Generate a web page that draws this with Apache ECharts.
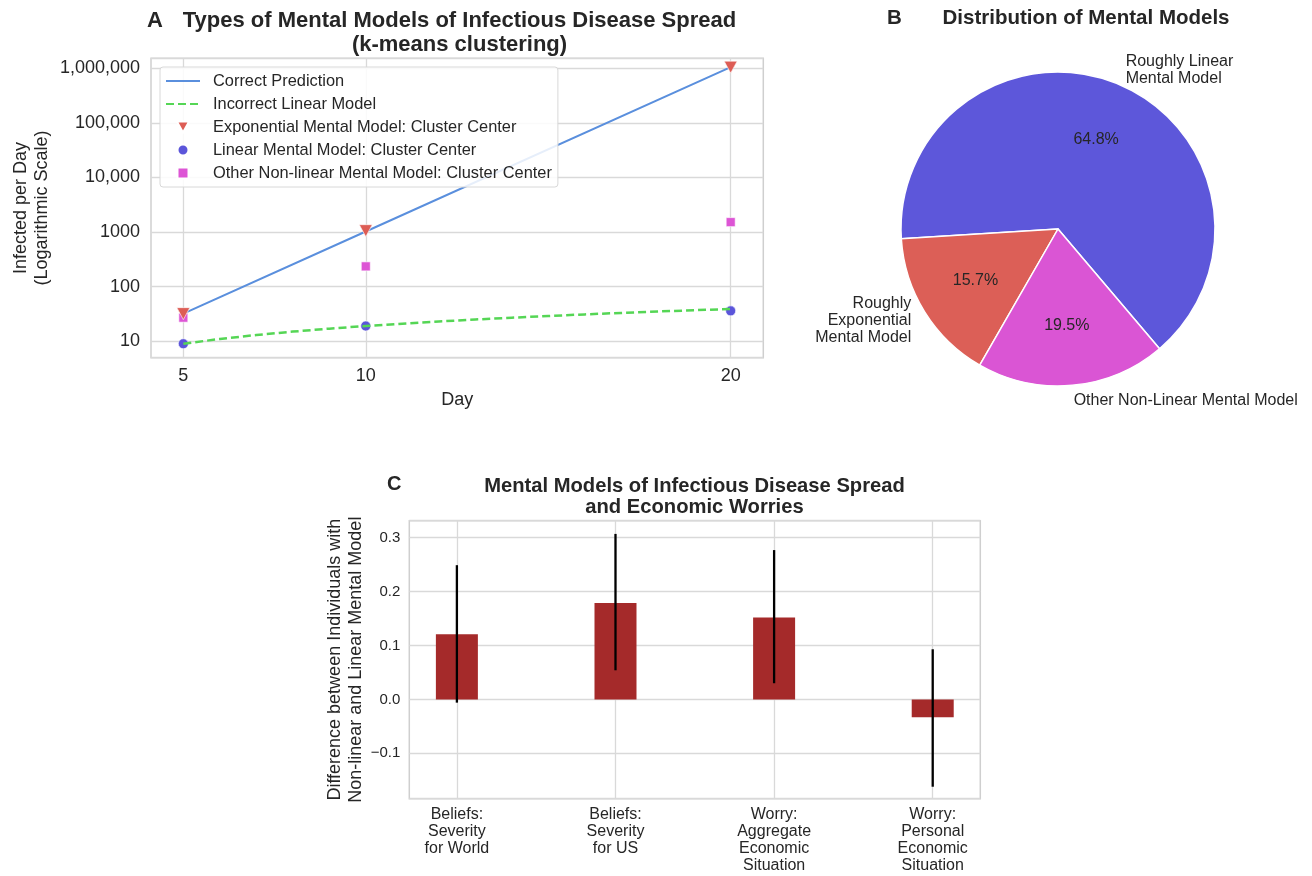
<!DOCTYPE html>
<html>
<head>
<meta charset="utf-8">
<script src="https://cdn.jsdelivr.net/npm/echarts@6/dist/echarts.min.js"></script>
<style>
html,body{margin:0;padding:0;background:#fff;}
#chart{width:1312px;height:876px;}
</style>
</head>
<body>
<div id="chart"></div>
<script>
// ---------- Panel A data ----------
const dayTicks = [5, 10, 20];
const correctDays = [5, 10, 20];
const correctValues = [32, 1024, 1048576];
const linearModelDays = [5, 6, 7, 8, 9, 10, 11, 12, 13, 14, 15, 16, 17, 18, 19, 20];
const linearModelValues = [9, 11, 13, 15, 17, 19, 21, 23, 25, 27, 29, 31, 33, 35, 37, 39];
const clusterDays = [5, 10, 20];
const exponentialCenters = [32, 1060, 1050000];
const linearCenters = [9, 19, 36];
const otherCenters = [27, 235, 1520];
const seriesNamesA = [
  'Correct Prediction',
  'Incorrect Linear Model',
  'Exponential Mental Model: Cluster Center',
  'Linear Mental Model: Cluster Center',
  'Other Non-linear Mental Model: Cluster Center'
];
// ---------- Panel B data ----------
const pieNames = ['Roughly Linear\nMental Model', 'Roughly\nExponential\nMental Model', 'Other Non-Linear Mental Model'];
const pieShares = [64.8, 15.7, 19.5];
// ---------- Panel C data ----------
const categoriesC = [
  'Beliefs:\nSeverity\nfor World',
  'Beliefs:\nSeverity\nfor US',
  'Worry:\nAggregate\nEconomic\nSituation',
  'Worry:\nPersonal\nEconomic\nSituation'
];
const diffValues = [0.121, 0.179, 0.152, -0.033];
const errLow = [-0.006, 0.054, 0.030, -0.162];
const errHigh = [0.249, 0.307, 0.277, 0.093];

const FONT = "'Liberation Sans', Arial, Helvetica, sans-serif";
const TXT = '#262626';
const GRIDC = '#d9d9d9';
const FRAME = '#cfcfcf';
const pieColors = ['#5d57da', '#dc5f57', '#da55d4'];

const chart = echarts.init(document.getElementById('chart'), null, {renderer: 'canvas'});

function pow10Label(v) {
  const l = Math.log10(v);
  if (Math.abs(l - Math.round(l)) > 1e-6) return '';
  const n = Math.round(v);
  return n >= 10000 ? n.toLocaleString('en-US') : String(n);
}
function tenthLabel(v) {
  if (Math.abs(v * 10 - Math.round(v * 10)) > 1e-6) return '';
  const r = Math.round(v * 10) / 10;
  return (r < 0 ? '\u2212' : '') + Math.abs(r).toFixed(1);
}

const titleStyle = (size, lh) => ({fontFamily: FONT, fontWeight: 'bold', fontSize: size, lineHeight: lh, color: TXT});

const option = {
  backgroundColor: '#ffffff',
  animation: false,
  textStyle: {fontFamily: FONT, color: TXT},
  title: [
    {text: 'A', left: 147, top: 8.5, padding: 0, textStyle: titleStyle(22, 24)},
    {text: 'Types of Mental Models of Infectious Disease Spread\n(k-means clustering)', left: 459.5, top: 8.5, padding: 0, textAlign: 'center',
     textStyle: titleStyle(22, 24)},
    {text: 'B', left: 887, top: 6, padding: 0, textStyle: titleStyle(20.5, 24)},
    {text: 'Distribution of Mental Models', left: 1086, top: 6, padding: 0, textAlign: 'center',
     textStyle: titleStyle(20.5, 24)},
    {text: 'C', left: 387, top: 473, padding: 0, textStyle: titleStyle(20, 22)},
    {text: 'Mental Models of Infectious Disease Spread\nand Economic Worries', left: 694.5, top: 475.5, padding: 0, textAlign: 'center',
     textStyle: titleStyle(20.2, 21)}
  ],
  legend: {
    left: 160, top: 67, orient: 'vertical',
    padding: [6, 6, 6, 5],
    itemWidth: 34, itemHeight: 11, itemGap: 7,
    backgroundColor: 'rgba(255,255,255,0.85)',
    borderColor: '#d8d8d8', borderWidth: 1, borderRadius: 3,
    textStyle: {fontFamily: FONT, fontSize: 16.4, lineHeight: 16, color: TXT, padding: [0, 0, 0, 8]},
    data: [
      {name: seriesNamesA[0], itemStyle: {opacity: 0}},
      {name: seriesNamesA[1], itemStyle: {opacity: 0}},
      {name: seriesNamesA[2]},
      {name: seriesNamesA[3], icon: 'path://M0,0A5,5,0,1,1,0,0.01Z'},
      {name: seriesNamesA[4], icon: 'path://M0,0L10,0L10,10L0,10Z'}
    ],
    selectedMode: false
  },
  grid: [
    {left: 151, top: 58.3, width: 612.3, height: 299.4, show: true, borderColor: FRAME, borderWidth: 1.5, containLabel: false},
    {left: 409.3, top: 520.7, width: 571, height: 278, show: true, borderColor: FRAME, borderWidth: 1.5, containLabel: false}
  ],
  xAxis: [
    {
      type: 'value', gridIndex: 0, min: 4.114, max: 20.894,
      name: 'Day', nameLocation: 'middle', nameGap: 33,
      nameTextStyle: {fontFamily: FONT, fontSize: 18, color: TXT},
      axisLine: {show: false}, axisTick: {show: false, customValues: dayTicks},
      axisLabel: {customValues: dayTicks, fontFamily: FONT, fontSize: 18, color: TXT, margin: 9},
      splitLine: {show: true, lineStyle: {color: GRIDC, width: 1.3}}
    },
    {
      type: 'value', gridIndex: 1, min: -0.3, max: 3.3,
      axisLine: {show: false}, axisTick: {show: false, customValues: [0, 1, 2, 3]},
      axisLabel: {customValues: [0, 1, 2, 3], fontFamily: FONT, fontSize: 16, lineHeight: 17, color: TXT, margin: 7, align: 'center', verticalAlign: 'top',
        formatter: v => categoriesC[Math.round(v)]},
      splitLine: {show: true, lineStyle: {color: GRIDC, width: 1.3}}
    }
  ],
  yAxis: [
    {
      type: 'log', logBase: 10, gridIndex: 0, min: 4.99, max: 1525000,
      name: 'Infected per Day\n(Logarithmic Scale)', nameLocation: 'middle', nameGap: 98,
      nameTextStyle: {fontFamily: FONT, fontSize: 18, color: TXT, lineHeight: 21},
      axisLine: {show: false}, axisTick: {show: false}, minorTick: {show: false},
      axisLabel: {fontFamily: FONT, fontSize: 18, color: TXT, margin: 11, formatter: pow10Label},
      splitLine: {show: true, lineStyle: {color: GRIDC, width: 1.3}}
    },
    {
      type: 'value', gridIndex: 1, min: -0.1842, max: 0.3315,
      name: 'Difference between Individuals with\nNon-linear and Linear Mental Model', nameLocation: 'middle', nameGap: 42,
      nameTextStyle: {fontFamily: FONT, fontSize: 18, color: TXT, lineHeight: 21.5},
      axisLine: {show: false}, axisTick: {show: false},
      axisLabel: {fontFamily: FONT, fontSize: 15, color: TXT, margin: 9, formatter: tenthLabel},
      splitLine: {show: true, lineStyle: {color: GRIDC, width: 1.3}}
    }
  ],
  series: [
    {
      name: seriesNamesA[0], type: 'line', xAxisIndex: 0, yAxisIndex: 0,
      data: correctDays.map((d, i) => [d, correctValues[i]]),
      symbol: 'none', lineStyle: {color: '#5a8fdd', width: 2}, itemStyle: {color: '#5a8fdd'}, z: 2, silent: true
    },
    {
      name: seriesNamesA[1], type: 'line', xAxisIndex: 0, yAxisIndex: 0,
      data: linearModelDays.map((d, i) => [d, linearModelValues[i]]),
      symbol: 'none', lineStyle: {color: '#55d655', width: 2.5, type: [8, 4]}, itemStyle: {color: '#55d655'}, z: 4, silent: true
    },
    {
      name: seriesNamesA[2], type: 'scatter', xAxisIndex: 0, yAxisIndex: 0,
      data: clusterDays.map((d, i) => [d, exponentialCenters[i]]),
      symbol: 'path://M0,0L10,0L5,9Z', symbolSize: [13, 12],
      itemStyle: {color: '#dd5d55', borderColor: '#ffffff', borderWidth: 0.6, opacity: 1}, z: 5, silent: true
    },
    {
      name: seriesNamesA[3], type: 'scatter', xAxisIndex: 0, yAxisIndex: 0,
      data: clusterDays.map((d, i) => [d, linearCenters[i]]),
      symbol: 'circle', symbolSize: 10,
      itemStyle: {color: '#5b55da', borderColor: '#ffffff', borderWidth: 0.6, opacity: 1}, z: 3, silent: true
    },
    {
      name: seriesNamesA[4], type: 'scatter', xAxisIndex: 0, yAxisIndex: 0,
      data: clusterDays.map((d, i) => [d, otherCenters[i]]),
      symbol: 'rect', symbolSize: 9,
      itemStyle: {color: '#dd55d5', borderColor: '#ffffff', borderWidth: 0.6, opacity: 1}, z: 3, silent: true
    },
    // Panel B: pie with outer labels
    {
      type: 'pie', center: [1058, 229], radius: 157,
      startAngle: 310.3, clockwise: false, avoidLabelOverlap: false, silent: true,
      data: pieNames.map((n, i) => ({name: n, value: pieShares[i], itemStyle: {color: pieColors[i]}})),
      itemStyle: {borderColor: '#ffffff', borderWidth: 1.5},
      label: {show: true, position: 'outside', fontFamily: FONT, fontSize: 16, lineHeight: 17, color: TXT, distanceToLabelLine: 0,
        formatter: p => p.name},
      labelLine: {show: false, length: 15.7, length2: 0},
      emphasis: {disabled: true}
    },
    // Panel B: percentage labels (transparent ring placing labels at 0.6 r)
    {
      type: 'pie', center: [1058, 229], radius: [31.4, 157],
      startAngle: 310.3, clockwise: false, avoidLabelOverlap: false, silent: true,
      data: pieNames.map((n, i) => ({name: n, value: pieShares[i]})),
      itemStyle: {color: 'rgba(0,0,0,0)', borderWidth: 0},
      label: {show: true, position: 'inside', fontFamily: FONT, fontSize: 16, color: TXT,
        formatter: p => p.value.toFixed(1) + '%'},
      labelLine: {show: false},
      emphasis: {disabled: true}
    },
    // Panel C: bars
    {
      type: 'bar', xAxisIndex: 1, yAxisIndex: 1, barWidth: 42,
      data: diffValues.map((v, i) => [i, v]),
      itemStyle: {color: '#a52a2a'}, silent: true, z: 2
    },
    // Panel C: error bars
    {
      type: 'custom', xAxisIndex: 1, yAxisIndex: 1, silent: true, z: 3,
      data: errLow.map((lo, i) => [i, lo, errHigh[i]]),
      encode: {x: 0, y: [1, 2]},
      renderItem: function (params, api) {
        const x = api.value(0);
        const p1 = api.coord([x, api.value(1)]);
        const p2 = api.coord([x, api.value(2)]);
        return {type: 'line', shape: {x1: p1[0], y1: p1[1], x2: p2[0], y2: p2[1]},
          style: {stroke: '#000000', lineWidth: 2.3}};
      }
    }
  ]
};
chart.setOption(option);
</script>
</body>
</html>
